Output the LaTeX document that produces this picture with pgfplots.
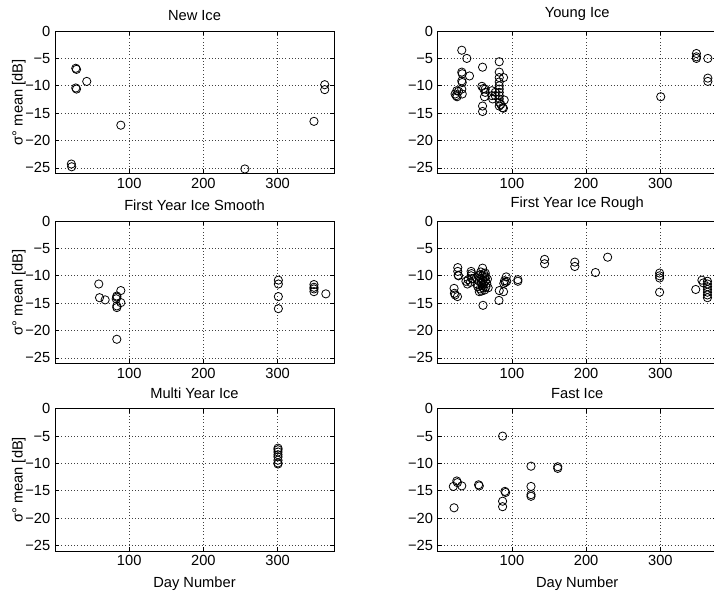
\documentclass[border=0pt]{standalone}
\usepackage{fontspec}
\setmainfont{Liberation Sans}
\usepackage{pgfplots}
\pgfplotsset{compat=1.18}
\pgfplotsset{
  panel/.style={
    scale only axis,
    width=209.25pt, height=106.7pt,
    xmin=0, xmax=376, ymin=-26, ymax=0,
    xtick={100,200,300},
    ytick={-25,-20,-15,-10,-5,0},
    yticklabels={−25,−20,−15,−10,−5,0},
    tick align=inside,
    major tick length=3pt,
    grid=major,
    major grid style={dotted, black!75, line width=0.5pt},
    axis line style={line width=0.6pt},
    tick style={black, line width=0.5pt},
    tick label style={font=\fontsize{11}{13}\selectfont},
    label style={font=\fontsize{11}{13}\selectfont},
    ylabel shift=-7pt,
    xlabel style={yshift=-1.5pt},
    title style={font=\fontsize{11}{13}\selectfont, yshift=-2pt},
    /pgf/number format/assume math mode=true,
    anchor=south west,
  },
  dots/.style={only marks, mark=o, mark size=3.1pt, black, mark options={line width=0.6pt}},
}
\begin{document}
\begin{tikzpicture}
\path[use as bounding box] (0,0) rectangle (535.5pt,-444.75pt);

% New Ice
\begin{axis}[panel, at={(41.25pt,-130pt)}, title={New Ice}, ylabel={σ° mean [dB]}]
\addplot[dots] coordinates {
(22,-24.3) (22.5,-24.8) (28,-6.8) (29,-7.0) (28,-10.4) (29,-10.6)
(42.8,-9.2) (88.7,-17.2) (255.9,-25.2) (349,-16.5) (363.5,-9.8) (363.5,-10.7)
};
\end{axis}

% Young Ice
\begin{axis}[panel, at={(328.3pt,-130pt)}, title={Young Ice}]
\addplot[dots] coordinates {
(32.4,-3.5) (39.2,-5.0) (42.8,-8.2) (32.4,-7.5) (33,-7.8) (32.4,-9.1) (33,-9.4)
(32.4,-10.6) (33,-11.5) (25.7,-10.9) (24.8,-11.8) (23.4,-11.5) (28,-11.0) (26,-12.0)
(60.4,-6.6) (59.5,-10.1) (61.7,-10.5) (64,-10.6) (64,-11.2) (63,-12.0)
(60.4,-13.7) (60.4,-14.7)
(73,-10.9) (73,-11.8) (74,-12.4) (77.5,-11.2) (77.5,-11.8)
(82.9,-5.6) (82.9,-7.5) (82.9,-8.5) (82.9,-9.3) (82.9,-10.0) (82.9,-10.6)
(82.9,-11.2) (82.9,-11.8) (82.9,-12.4) (82.9,-13.0) (82.9,-13.7)
(88.7,-8.5) (89.6,-12.6) (87.4,-14.0) (88.5,-14.1) (85,-13.4)
(300.5,-12.0) (348.6,-4.1) (348.6,-4.7) (348.6,-5.0) (364,-5.0) (364,-8.6) (364,-9.2)
};
\end{axis}

% First Year Ice Smooth
\begin{axis}[panel, at={(41.25pt,-272.5pt)}, title={First Year Ice Smooth}, ylabel={σ° mean [dB]}]
\addplot[dots] coordinates {
(59,-11.5) (60,-14.0) (67.6,-14.4) (83.3,-13.7) (83.3,-13.9) (82.5,-14.2)
(83.3,-15.5) (83.3,-15.8) (88.7,-12.7) (88.7,-14.9) (83.3,-21.6)
(301,-10.8) (301,-11.5) (301,-13.8) (301,-16.0)
(349,-11.6) (349,-12.1) (349,-12.4) (349,-12.9) (365,-13.3)
};
\end{axis}

% First Year Ice Rough
\begin{axis}[panel, at={(328.3pt,-272.5pt)}, title={First Year Ice Rough}]
\addplot[dots] coordinates {
(22,-12.3) (22.5,-13.2) (23.5,-13.5) (26.6,-13.8) (27,-8.5) (27,-9.2) (27.5,-9.9) (28,-10.0)
(38,-11.0) (40,-11.5) (41,-10.7) (45,-9.2) (45.5,-9.6) (45,-10.0) (46,-10.5) (44,-11.2)
(60.4,-8.6) (61,-15.4)
(52,-10.4) (53,-11.5) (54,-12.0) (55,-10.0) (56,-11.0) (57,-12.4) (57,-9.8) (58,-10.5)
(59,-11.3) (59,-12.8) (60,-10.0) (60,-11.8) (61,-10.8) (61,-12.2) (62,-9.6) (62,-11.5)
(63,-10.3) (63,-12.6) (64,-11.0) (65,-10.2) (65,-12.0) (66,-11.4) (67,-10.6) (68,-12.2)
(56,-12.9) (58,-9.3) (64,-9.5)
(82.9,-12.7) (88.7,-12.9) (82.5,-14.5) (92.3,-10.2) (90,-10.9) (91,-11.2) (89,-11.4)
(93,-11.0) (108,-10.7) (108,-11.0)
(144,-7.0) (144,-7.8) (184.7,-7.5) (184.7,-8.3) (212.6,-9.4) (229,-6.6)
(299,-9.5) (299,-10.0) (299,-10.4) (299,-13.0) (347.7,-12.5) (356,-10.8) (358,-11.3)
(363.5,-11.0) (363.5,-11.5) (363.5,-12.0) (363.5,-12.5) (363.5,-13.0) (363.5,-13.5) (363.5,-14.0)
};
\end{axis}

% Multi Year Ice
\begin{axis}[panel, at={(41.25pt,-413.25pt)}, title={Multi Year Ice}, ylabel={σ° mean [dB]}, xlabel={Day Number}]
\addplot[dots] coordinates {
(300.5,-7.2) (300.5,-7.5) (300.5,-7.9) (300.5,-8.4) (300.5,-8.8) (300.5,-9.4) (300.5,-9.9) (300.5,-10.1)
};
\end{axis}

% Fast Ice
\begin{axis}[panel, at={(328.3pt,-413.25pt)}, title={Fast Ice}, xlabel={Day Number}]
\addplot[dots] coordinates {
(21,-14.2) (22,-18.1) (25.7,-13.2) (26.5,-13.5) (32.4,-14.1) (55,-13.9) (56,-14.1)
(87.4,-5.0) (87.4,-16.9) (87.4,-17.9) (90.5,-15.1) (91.5,-15.3)
(125.7,-10.5) (125.7,-14.2) (125.7,-15.7) (125.7,-16.0) (161.7,-10.6) (161.7,-10.9)
};
\end{axis}
\end{tikzpicture}
\end{document}
